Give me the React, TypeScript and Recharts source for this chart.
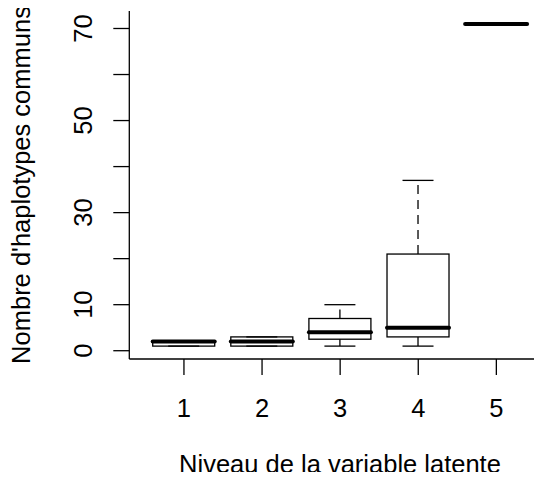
import { ComposedChart, Bar, XAxis, YAxis } from 'recharts';

// Boxplot of shared haplotypes by latent level
const levels = ['1', '2', '3', '4', '5'];
const mins = [1, 1, 1, 1, 71];
const q1s = [1, 1, 2.5, 3, 71];
const medians = [2, 2, 4, 5, 71];
const q3s = [2, 3, 7, 21, 71];
const maxs = [2, 3, 10, 37, 71];
const yTicks = [0, 10, 20, 30, 40, 50, 60, 70];
const yLabelled = [0, 10, 30, 50, 70];

// R-style 4% axis extension
const lo = Math.min(...mins);
const hi = Math.max(...maxs);
const Y_MIN = lo - 0.04 * (hi - lo);
const Y_MAX = hi + 0.04 * (hi - lo);

const rows = levels.map((level, i) => ({
  level,
  min: mins[i],
  q1: q1s[i],
  median: medians[i],
  q3: q3s[i],
  max: maxs[i],
  span: [Y_MIN, Y_MAX],
}));

const FONT = '"Liberation Sans", Arial, sans-serif';

const BoxShape = (props: any) => {
  const { x, y, width, height, payload } = props;
  const top = Math.min(y, y + height);
  const h = Math.abs(height);
  const py = (v: number) => top + (h * (Y_MAX - v)) / (Y_MAX - Y_MIN);
  const cx = x + width / 2;
  const cap = width / 4;
  return (
    <g>
      {payload.max > payload.q3 && (
        <line x1={cx} x2={cx} y1={py(payload.q3)} y2={py(payload.max)} stroke="#000" strokeWidth={1.3} strokeDasharray="9 6" />
      )}
      {payload.min < payload.q1 && (
        <line x1={cx} x2={cx} y1={py(payload.q1)} y2={py(payload.min)} stroke="#000" strokeWidth={1.3} strokeDasharray="9 6" />
      )}
      <line x1={cx - cap} x2={cx + cap} y1={py(payload.max)} y2={py(payload.max)} stroke="#000" strokeWidth={1.3} />
      <line x1={cx - cap} x2={cx + cap} y1={py(payload.min)} y2={py(payload.min)} stroke="#000" strokeWidth={1.3} />
      <rect x={x} y={py(payload.q3)} width={width} height={py(payload.q1) - py(payload.q3)} fill="none" stroke="#000" strokeWidth={1.3} />
      <line x1={x} x2={x + width} y1={py(payload.median)} y2={py(payload.median)} stroke="#000" strokeWidth={4} strokeLinecap="round" />
    </g>
  );
};

const YTick = (props: any) => {
  const { y, payload } = props;
  if (!yLabelled.includes(payload.value)) return null;
  return (
    <text x={92.5} y={y} transform={`rotate(-90, 92.5, ${y})`} textAnchor="middle" fontSize={25.5} fontFamily={FONT} fill="#000">
      {payload.value}
    </text>
  );
};

const XTick = (props: any) => {
  const { x, payload } = props;
  return (
    <text x={x} y={417} textAnchor="middle" fontSize={25.5} fontFamily={FONT} fill="#000">
      {payload.value}
    </text>
  );
};

export default function App() {
  return (
    <div style={{ position: 'relative', width: 542, height: 480, margin: -8, overflow: 'hidden', background: '#fff' }}>
      <ComposedChart width={560} height={480} data={rows} margin={{ top: 11, right: 9, bottom: 0, left: 0 }} barCategoryGap="10%">
        <XAxis
          dataKey="level"
          height={121}
          padding={{ left: 15.6, right: 15.6 }}
          tickSize={16}
          tick={<XTick />}
          tickLine={{ stroke: '#000', strokeWidth: 1.3 }}
          axisLine={{ stroke: '#000', strokeWidth: 1.3 }}
          interval={0}
        />
        <XAxis
          xAxisId="top"
          dataKey="level"
          orientation="top"
          height={0}
          tick={false}
          tickLine={false}
          axisLine={{ stroke: '#000', strokeWidth: 1.3 }}
        />
        <YAxis
          type="number"
          width={129.3}
          domain={[Y_MIN, Y_MAX]}
          ticks={yTicks}
          allowDataOverflow
          tickSize={16}
          tick={<YTick />}
          tickLine={{ stroke: '#000', strokeWidth: 1.3 }}
          axisLine={{ stroke: '#000', strokeWidth: 1.3 }}
          interval={0}
        />
        <Bar dataKey="span" shape={<BoxShape />} isAnimationActive={false} />
      </ComposedChart>
      <svg width={542} height={480} style={{ position: 'absolute', left: 0, top: 0, pointerEvents: 'none' }}>
        <text x={340} y={473} textAnchor="middle" fontSize={25.5} fontFamily={FONT} fill="#000">
          Niveau de la variable latente
        </text>
        <text x={30} y={185} transform="rotate(-90, 30, 185)" textAnchor="middle" fontSize={25.5} fontFamily={FONT} fill="#000">
          Nombre d'haplotypes communs
        </text>
      </svg>
    </div>
  );
}
